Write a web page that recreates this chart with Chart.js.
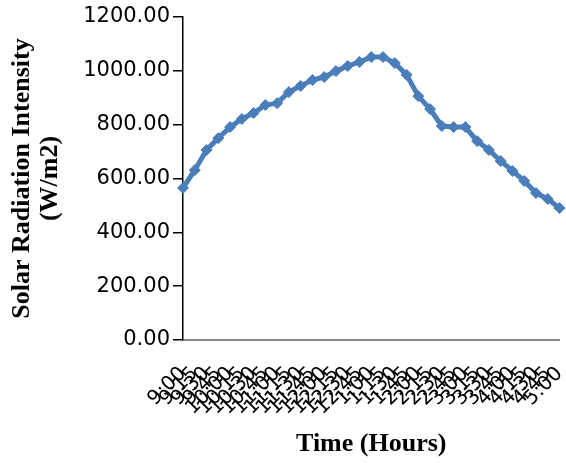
<!DOCTYPE html>
<html>
<head>
<meta charset="utf-8">
<script src="https://cdn.jsdelivr.net/npm/chart.js@4.4.0/dist/chart.umd.min.js"></script>
<style>
  html, body { margin: 0; padding: 0; background: #fff; }
  #wrap { width: 566px; height: 463px; }
</style>
</head>
<body>
<div id="wrap"><canvas id="chart1"></canvas></div>
<script>
// time of day, every 15 minutes
var times = ['9:00','9:15','9:30','9:45','10:00','10:15','10:30','10:45',
  '11:00','11:15','11:30','11:45','12:00','12:15','12:30','12:45',
  '1:00','1:15','1:30','1:45','2:00','2:15','2:30','2:45',
  '3:00','3:15','3:30','3:45','4:00','4:15','4:30','4:45','5:00'];

// solar radiation intensity (W/m2)
var radiation = [565, 631, 706, 750, 791, 821, 843, 873,
  880, 921, 944, 966, 977, 999, 1018, 1033,
  1051, 1051, 1029, 985, 906, 858, 795, 791,
  791, 739, 706, 665, 628, 591, 546, 524, 490];

var yTicks = [0, 200, 400, 600, 800, 1000, 1200];

let ctx = document.getElementById('chart1');

var solarChart = new Chart(ctx, {
    type: 'line',
    data: {
        labels: times,
        datasets: [{
            label: 'Solar Radiation Intensity',
            data: radiation,
            borderColor: '#4a7ebb',
            backgroundColor: '#4a7ebb',
            borderWidth: 5,
            pointStyle: 'rectRot',
            pointRadius: 5.5,
            pointBorderWidth: 1,
            tension: 0
        }]
    },
    options: {
        responsive: true,
        maintainAspectRatio: false,
        animation: false,
        layout: {
            padding: { top: 17, right: 3, bottom: 0, left: 0 }
        },
        plugins: {
            legend: { display: false },
            tooltip: { enabled: false }
        },
        scales: {
            x: {
                offset: false,
                afterFit: function (scale) {
                    scale.height = 123;
                    scale.paddingLeft = 0;
                    scale.paddingRight = 0;
                },
                grid: { drawOnChartArea: false, drawTicks: false },
                border: { display: true, color: '#8c8c8c', width: 2 },
                ticks: {
                    autoSkip: false,
                    minRotation: 45,
                    maxRotation: 45,
                    padding: 22,
                    color: '#000',
                    font: { family: 'DejaVu Sans', size: 20 }
                },
                title: {
                    display: true,
                    text: 'Time (Hours)',
                    color: '#000',
                    padding: { top: 0, bottom: 3 },
                    font: { family: 'Liberation Serif', size: 26, weight: 'bold', lineHeight: 1.2 }
                }
            },
            y: {
                min: 0,
                max: 1200,
                afterFit: function (scale) { scale.width = 183; },
                afterBuildTicks: function (scale) {
                    scale.ticks = yTicks.map(function (v) { return { value: v }; });
                },
                grid: { drawOnChartArea: false, drawTicks: true, tickLength: 10, color: '#000', lineWidth: 1.5 },
                border: { display: true, color: '#000', width: 1.5 },
                ticks: {
                    padding: 3,
                    color: '#000',
                    font: { family: 'DejaVu Sans', size: 21 },
                    callback: function (v) { return Number(v).toFixed(2); }
                },
                title: {
                    display: true,
                    text: ['Solar Radiation Intensity', '(W/m2)'],
                    color: '#000',
                    padding: { top: 9, bottom: 0 },
                    font: { family: 'Liberation Serif', size: 26, weight: 'bold', lineHeight: 1.05 }
                }
            }
        }
    }
});
</script>
</body>
</html>
